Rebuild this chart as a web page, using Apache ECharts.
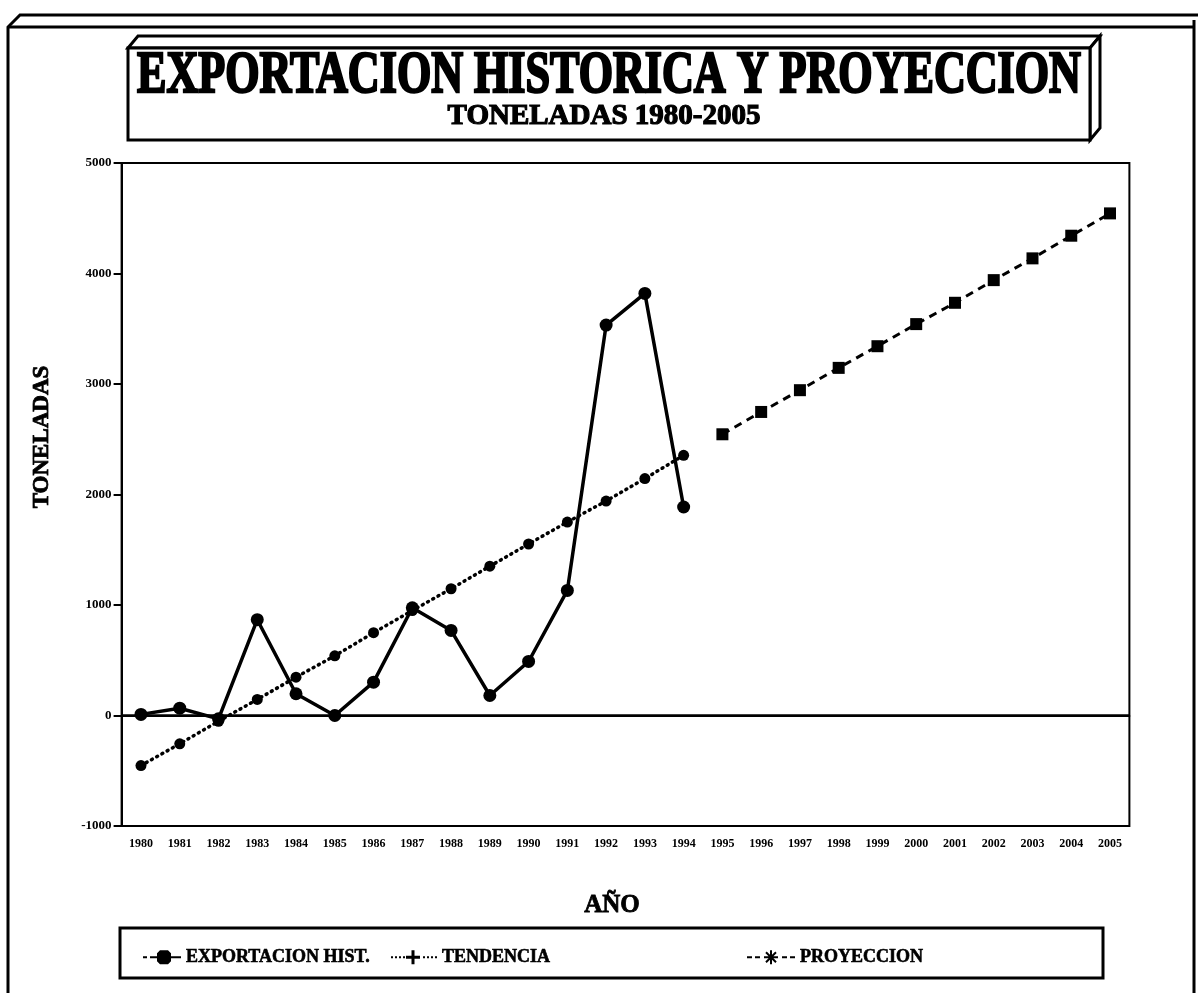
<!DOCTYPE html>
<html>
<head>
<meta charset="utf-8">
<title>Exportacion historica y proyeccion</title>
<script src="https://cdn.jsdelivr.net/npm/echarts@6/dist/echarts.min.js"></script>
<style>
html, body { margin: 0; padding: 0; background: #fff; }
#main { width: 1198px; height: 993px; }
</style>
</head>
<body>
<div id="main"></div>
<script>
var years = ['1980', '1981', '1982', '1983', '1984', '1985', '1986', '1987', '1988',
    '1989', '1990', '1991', '1992', '1993', '1994', '1995', '1996', '1997', '1998',
    '1999', '2000', '2001', '2002', '2003', '2004', '2005'];

// toneladas
var exportHist = [10, 66, -30, 867, 197, 0, 302, 975, 770, 181, 489, 1132, 3533, 3820, 1887];
var tendencia = [-453, -256, -52, 145, 347, 540, 749, 950, 1147, 1351, 1552, 1751, 1941, 2144, 2355];
var proyeccion = [2545, 2747, 2944, 3146, 3342, 3542, 3735, 3940, 4137, 4342, 4544];
var histStart = 0, trendStart = 0, projStart = 15;

var serif = '"Liberation Serif", "DejaVu Serif", serif';

function pad(values, start) {
    return years.map(function (y, i) {
        var k = i - start;
        return (k >= 0 && k < values.length) ? values[k] : null;
    });
}

// legend icons: line piece + marker, like the original key
var iconHist = 'path://M0 7h4v2H0z M7 7h31v2H7z M17 1h8l3 3v8l-3 3h-8l-3-3v-8z';
var iconTrend = 'path://M0 7h2v2H0z M4 7h2v2H4z M8 7h2v2H8z M12 7h2v2h-2z M20.5 1h3v14h-3z M15 6.5h14v3H15z' +
    ' M32 7h2v2h-2z M36 7h2v2h-2z M40 7h2v2h-2z M44 7h2v2h-2z';
var iconProj = 'path://M0 7h5v2H0z M8 7h5v2H8z M23 1h2v14h-2z M17 7h14v2H17z' +
    ' M18.3 3.7L19.7 2.3L29.7 12.3L28.3 13.7z M28.3 2.3L29.7 3.7L19.7 13.7L18.3 12.3z' +
    ' M35 7h5v2h-5z M43 7h5v2h-5z';

var legendText = { color: '#000', fontFamily: serif, fontWeight: 'bold', fontSize: 18,
    textBorderColor: '#000', textBorderWidth: 0.6 };

var myChart = echarts.init(document.getElementById('main'));
var option = {
    backgroundColor: '#fff',
    animation: false,
    graphic: [
        // outer frame
        { type: 'polyline', shape: { points: [[8, 1000], [8, 27], [20, 15], [1198, 15]] },
          style: { stroke: '#000', lineWidth: 3, fill: null } },
        { type: 'line', shape: { x1: 8, y1: 27, x2: 1194, y2: 27 }, style: { stroke: '#000', lineWidth: 3 } },
        { type: 'line', shape: { x1: 1194, y1: 20, x2: 1194, y2: 1000 }, style: { stroke: '#000', lineWidth: 3 } },
        // title box with its 3d edge
        { type: 'polygon', shape: { points: [[128, 48], [138, 36], [1100, 36], [1090, 48]] },
          style: { fill: '#fff', stroke: '#000', lineWidth: 3 } },
        { type: 'polygon', shape: { points: [[1090, 48], [1100, 36], [1100, 128], [1090, 140]] },
          style: { fill: '#fff', stroke: '#000', lineWidth: 3 } },
        { type: 'rect', shape: { x: 128, y: 48, width: 962, height: 92 },
          style: { fill: '#fff', stroke: '#000', lineWidth: 3 } },
        { type: 'text', x: 609, y: 76, scaleX: 0.735,
          style: { text: 'EXPORTACION HISTORICA Y PROYECCION', font: 'bold 60px ' + serif,
                   textAlign: 'center', textVerticalAlign: 'middle', fill: '#000', stroke: '#000', lineWidth: 2.5 } },
        { type: 'text', x: 604, y: 117,
          style: { text: 'TONELADAS 1980-2005', font: 'bold 29px ' + serif,
                   textAlign: 'center', textVerticalAlign: 'middle', fill: '#000', stroke: '#000', lineWidth: 1.2 } },
        // axis names
        { type: 'text', x: 42, y: 437, rotation: Math.PI / 2,
          style: { text: 'TONELADAS', font: 'bold 23px ' + serif,
                   textAlign: 'center', textVerticalAlign: 'middle', fill: '#000', stroke: '#000', lineWidth: 0.8 } },
        { type: 'text', x: 612, y: 906,
          style: { text: 'AÑO', font: 'bold 25px ' + serif,
                   textAlign: 'center', textVerticalAlign: 'middle', fill: '#000', stroke: '#000', lineWidth: 0.8 } },
        // legend box
        { type: 'rect', shape: { x: 120, y: 928, width: 983, height: 50 },
          style: { fill: '#fff', stroke: '#000', lineWidth: 3 } }
    ],
    legend: [
        { data: [{ name: 'EXPORTACION HIST.', icon: iconHist }], left: 138, top: 943,
          itemWidth: 38, itemHeight: 14, textStyle: legendText },
        { data: [{ name: 'TENDENCIA', icon: iconTrend }], left: 386, top: 943,
          itemWidth: 46, itemHeight: 14, textStyle: legendText },
        { data: [{ name: 'PROYECCION', icon: iconProj }], left: 742, top: 943,
          itemWidth: 48, itemHeight: 14, textStyle: legendText }
    ],
    grid: {
        left: 121.6, right: 68.6, top: 163, bottom: 167,
        show: true, borderColor: '#000', borderWidth: 2
    },
    xAxis: {
        type: 'category',
        data: years,
        boundaryGap: true,
        axisLine: { lineStyle: { color: '#000', width: 2 } },
        axisTick: { alignWithLabel: true, length: 9, lineStyle: { color: '#000', width: 2 } },
        axisLabel: { color: '#000', fontFamily: serif, fontWeight: 'bold', fontSize: 12, margin: 12, interval: 0 },
        splitLine: { show: false }
    },
    yAxis: {
        type: 'value',
        min: -1000, max: 5000, interval: 1000,
        axisLine: { show: true, lineStyle: { color: '#000', width: 2 } },
        axisTick: { show: true, length: 8, lineStyle: { color: '#000', width: 2 } },
        axisLabel: { color: '#000', fontFamily: serif, fontWeight: 'bold', fontSize: 13, margin: 10,
                     formatter: function (v) { return String(v); } },
        splitLine: { show: false }
    },
    series: [{
        name: 'EXPORTACION HIST.',
        type: 'line',
        data: pad(exportHist, histStart),
        symbol: 'circle', symbolSize: 13,
        itemStyle: { color: '#000' },
        lineStyle: { color: '#000', width: 3.5 },
        z: 4,
        markLine: {
            silent: true, symbol: 'none',
            label: { show: false },
            lineStyle: { color: '#000', width: 2.5, type: 'solid' },
            data: [{ yAxis: 0 }]
        }
    }, {
        name: 'TENDENCIA',
        type: 'line',
        data: pad(tendencia, trendStart),
        symbol: 'circle', symbolSize: 11,
        itemStyle: { color: '#000' },
        lineStyle: { color: '#000', width: 3.5, type: [1, 5], cap: 'round' },
        z: 3
    }, {
        name: 'PROYECCION',
        type: 'line',
        data: pad(proyeccion, projStart),
        symbol: 'rect', symbolSize: 12,
        itemStyle: { color: '#000' },
        lineStyle: { color: '#000', width: 3, type: [8, 6] },
        z: 3
    }]
};
myChart.setOption(option);
</script>
</body>
</html>
